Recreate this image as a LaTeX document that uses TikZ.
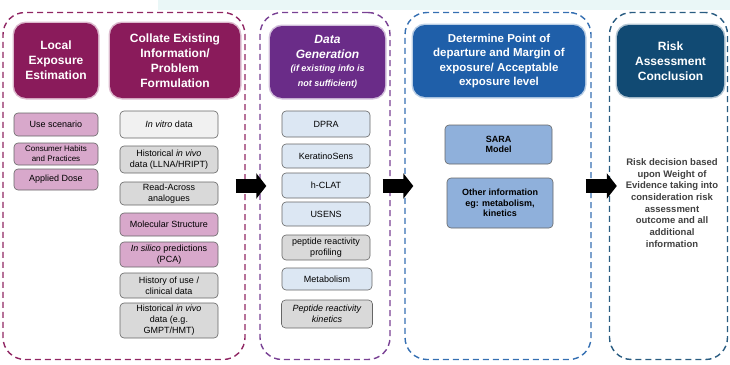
\documentclass[tikz,border=0pt]{standalone}
\usepackage{fontspec}
\setmainfont{Liberation Sans}
\usetikzlibrary{arrows.meta}

\definecolor{plum}{HTML}{8A1B5B}
\definecolor{violet}{HTML}{6A2C88}
\definecolor{royal}{HTML}{1F5FA9}
\definecolor{navy}{HTML}{114A73}
\definecolor{pinkbox}{HTML}{D8A8CB}
\definecolor{greybox}{HTML}{D9D9D9}
\definecolor{paperbox}{HTML}{F1F1F1}
\definecolor{icebox}{HTML}{DCE7F3}
\definecolor{skybox}{HTML}{8FB0DB}
\definecolor{mist}{HTML}{EAF7F7}

\tikzstyle{frame}=[draw,line width=1.4pt,rounded corners=22pt,
    dash pattern=on 6pt off 4pt,inner sep=0pt,minimum height=347pt]
\tikzstyle{header}=[rounded corners=12pt,inner sep=2pt,align=center,
    text=white,line width=3pt,draw opacity=0.3,
    font=\fontsize{12}{15}\selectfont\bfseries]
\tikzstyle{item}=[draw=black!60,semithick,rounded corners=4pt,inner sep=1pt,
    align=center,font=\fontsize{9}{11}\selectfont]
\tikzstyle{item pink}=[item,fill=pinkbox]
\tikzstyle{item grey}=[item,fill=greybox]
\tikzstyle{item paper}=[item,fill=paperbox]
\tikzstyle{item ice}=[item,fill=icebox]
\tikzstyle{item sky}=[item,fill=skybox,font=\fontsize{9}{10.5}\selectfont\bfseries]
\tikzstyle{bigarrow}=[line width=14pt,-{Triangle[length=10pt,width=25pt]}]
\newcommand{\entry}[4][]{
    \node[#1] at (#2) (#3) {#4};
}
\newcommand{\minor}{\fontsize{9}{11}\selectfont\bfseries\itshape}

\begin{document}
\begin{tikzpicture}[x=1pt,y=-1pt]
    \useasboundingbox (0,0) rectangle (730,364);
    \fill[mist] (158,0) rectangle (730,10);
    %
    \node[frame,draw=plum!95!white,minimum width=242pt] at (124,186) (exposure) {};
    \node[frame,draw=violet!90!white,minimum width=130pt] at (325,186) (generation) {};
    \node[frame,draw=royal!90!white,minimum width=186pt] at (498,186) (departure) {};
    \node[frame,draw=navy!90!white,minimum width=118pt] at (668.5,186) (conclusion) {};
    %
    \entry[header,fill=plum,draw=plum,minimum width=84pt,minimum height=75pt]
        {56,60.5}{hLocal}{Local\\Exposure\\Estimation}
    \entry[header,fill=plum,draw=plum,minimum width=130pt,minimum height=75pt]
        {175,60.5}{hCollate}{Collate Existing\\Information/\\Problem\\Formulation}
    \entry[header,fill=violet,draw=violet,minimum width=115pt,minimum height=72pt,
        font=\fontsize{12}{15}\selectfont\bfseries\itshape]
        {327.5,62}{hData}{Data\\Generation\\[-2pt]
        \minor (if existing info is\\\minor not sufficient)}
    \entry[header,fill=royal,draw=royal,minimum width=172pt,minimum height=72pt,
        font=\fontsize{11.5}{14.5}\selectfont\bfseries]
        {499,61}{hPoint}{Determine Point of\\departure and Margin of\\
        exposure/ Acceptable\\exposure level}
    \entry[header,fill=navy,draw=navy,minimum width=107pt,minimum height=72pt]
        {670.5,61}{hRisk}{Risk\\Assessment\\Conclusion}
    %
    \entry[item pink,minimum width=84pt,minimum height=23pt]{56,124.5}{uScenario}{Use scenario}
    \entry[item pink,minimum width=84pt,minimum height=22pt,
        font=\fontsize{8}{10}\selectfont]{56,154}{uHabits}{Consumer Habits\\and Practices}
    \entry[item pink,minimum width=84pt,minimum height=21pt]{56,179.5}{uDose}{Applied Dose}
    %
    \entry[item paper,minimum width=98pt,minimum height=27pt]{169,124.5}{cVitro}{\textit{In vitro} data}
    \entry[item grey,minimum width=98pt,minimum height=27pt]
        {169,159.5}{cVivo}{Historical \textit{in vivo}\\data (LLNA/HRIPT)}
    \entry[item grey,minimum width=98pt,minimum height=23pt]{169,193.5}{cRead}{Read-Across\\analogues}
    \entry[item pink,minimum width=98pt,minimum height=23pt]{169,224.5}{cMol}{Molecular Structure}
    \entry[item pink,minimum width=98pt,minimum height=25pt]
        {169,254.5}{cSilico}{\textit{In silico} predictions\\(PCA)}
    \entry[item grey,minimum width=98pt,minimum height=25pt]
        {169,285.5}{cUse}{History of use /\\clinical data}
    \entry[item grey,minimum width=98pt,minimum height=35pt]
        {169,320.5}{cGmpt}{Historical \textit{in vivo}\\data (e.g.\\GMPT/HMT)}
    %
    \entry[item ice,minimum width=88pt,minimum height=26pt]{326,124}{dDpra}{DPRA}
    \entry[item ice,minimum width=88pt,minimum height=24pt]{326,156}{dKerat}{KeratinoSens}
    \entry[item ice,minimum width=88pt,minimum height=25pt]{326,185.5}{dHclat}{h-CLAT}
    \entry[item ice,minimum width=88pt,minimum height=24pt]{326,214}{dUsens}{USENS}
    \entry[item grey,minimum width=88pt,minimum height=25pt]
        {326,247.5}{dPeptide}{peptide reactivity\\profiling}
    \entry[item ice,minimum width=90pt,minimum height=22pt]{327,279}{dMetab}{Metabolism}
    \entry[item grey,minimum width=91pt,minimum height=28pt]
        {327,314}{dKinetics}{\textit{Peptide reactivity}\\\textit{kinetics}}
    %
    \entry[item sky,minimum width=107pt,minimum height=39pt]{498.5,144.5}{eSara}{SARA\\Model}
    \entry[item sky,minimum width=106pt,minimum height=50pt]
        {500,203}{eOther}{Other information\\eg: metabolism,\\kinetics}
    %
    \entry[align=center,text=black!75,font=\fontsize{9.5}{11.7}\selectfont\bfseries]
        {672,203}{rDecision}{Risk decision based\\upon Weight of\\Evidence taking into\\
        consideration risk\\assessment\\outcome and all\\additional\\information}
    %
    \draw[bigarrow] ([xshift=-10pt]exposure.east) -- ([xshift=7pt]generation.west);
    \draw[bigarrow] ([xshift=-8pt]generation.east) -- ([xshift=9pt]departure.west);
    \draw[bigarrow] ([xshift=-6pt]departure.east) -- ([xshift=8pt]conclusion.west);
\end{tikzpicture}
\end{document}
